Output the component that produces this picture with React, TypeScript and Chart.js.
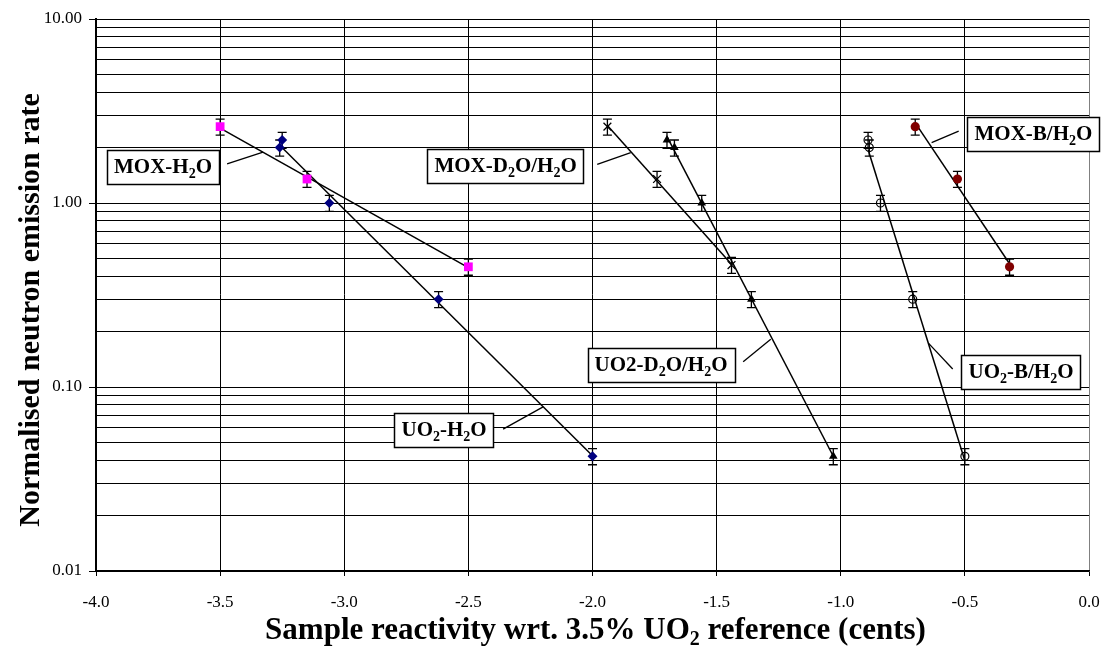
import React, { useEffect, useRef } from "react";
import { Chart, registerables } from "chart.js";

Chart.register(...registerables);

// ---------- data ----------
const xTickValues = [-4.0, -3.5, -3.0, -2.5, -2.0, -1.5, -1.0, -0.5, 0.0];
const yDecades = [0.01, 0.1, 1, 10];

const moxH2oX = [-3.5, -3.15, -2.5];
const moxH2oY = [2.6, 1.35, 0.45];
const moxH2oErr = [0.26, 0.135, 0.045];

const uo2H2oX = [-3.25, -3.26, -3.06, -2.62, -2.0];
const uo2H2oY = [2.2, 2.0, 1.0, 0.3, 0.042];
const uo2H2oErr = [0.22, 0.2, 0.1, 0.03, 0.0042];

const moxD2oX = [-1.94, -1.74, -1.44];
const moxD2oY = [2.6, 1.35, 0.46];
const moxD2oErr = [0.26, 0.135, 0.046];

const uo2D2oX = [-1.7, -1.67, -1.56, -1.36, -1.03];
const uo2D2oY = [2.2, 2.0, 1.0, 0.3, 0.042];
const uo2D2oErr = [0.22, 0.2, 0.1, 0.03, 0.0042];

const uo2BX = [-0.89, -0.885, -0.84, -0.71, -0.5];
const uo2BY = [2.2, 2.0, 1.0, 0.3, 0.042];
const uo2BErr = [0.22, 0.2, 0.1, 0.03, 0.0042];

const moxBX = [-0.7, -0.53, -0.32];
const moxBY = [2.6, 1.35, 0.45];
const moxBErr = [0.26, 0.135, 0.045];

// annotation labels ("_2" = subscript 2)
const labelTexts = ["MOX-H_2O", "MOX-D_2O/H_2O", "MOX-B/H_2O", "UO_2-H_2O", "UO2-D_2O/H_2O", "UO_2-B/H_2O"];
const labelX = [-3.73, -2.35, -0.224, -2.598, -1.724, -0.274];
const labelY = [1.57, 1.58, 2.37, 0.0583, 0.1325, 0.1214];
const leaderX1 = [-3.472, -1.981, -0.525, -2.36, -1.393, -0.549];
const leaderY1 = [1.63, 1.62, 2.46, 0.059, 0.137, 0.1253];
const leaderX2 = [-3.327, -1.846, -0.634, -2.199, -1.282, -0.646];
const leaderY2 = [1.89, 1.88, 2.13, 0.078, 0.1815, 0.1727];

const xTitle = "Sample reactivity wrt. 3.5% UO_2 reference (cents)";
const yTitle = "Normalised neutron emission rate";

// ---------- helpers ----------
const SERIF = '"Liberation Serif", "Times New Roman", serif';

const pts = (xs: number[], ys: number[]) => xs.map((x, i) => ({ x, y: ys[i] }));

// exponential (log-linear) least squares trendline, spanning data x range
function trend(xs: number[], ys: number[]) {
  const n = xs.length;
  const ly = ys.map((v) => Math.log(v));
  const mx = xs.reduce((a, b) => a + b, 0) / n;
  const my = ly.reduce((a, b) => a + b, 0) / n;
  let sxy = 0, sxx = 0;
  for (let i = 0; i < n; i++) {
    sxy += (xs[i] - mx) * (ly[i] - my);
    sxx += (xs[i] - mx) * (xs[i] - mx);
  }
  const b = sxy / sxx;
  const a = my - b * mx;
  const x0 = Math.min(...xs), x1 = Math.max(...xs);
  return [
    { x: x0, y: Math.exp(a + b * x0) },
    { x: x1, y: Math.exp(a + b * x1) },
  ];
}

const yTickValues: number[] = (() => {
  const out: number[] = [];
  for (let d = 0; d < yDecades.length - 1; d++) {
    for (let m = 1; m <= 9; m++) out.push(+(yDecades[d] * m).toPrecision(6));
  }
  out.push(yDecades[yDecades.length - 1]);
  return out;
})();

const isMajor = (v: number) => {
  const l = Math.log10(v);
  return Math.abs(l - Math.round(l)) < 1e-6;
};

function parseRich(text: string) {
  const segs: { t: string; sub: boolean }[] = [];
  const parts = text.split(/_(\d)/);
  parts.forEach((p, i) => {
    if (p) segs.push({ t: p, sub: i % 2 === 1 });
  });
  return segs;
}

function measureRich(ctx: CanvasRenderingContext2D, text: string, size: number, subSize: number) {
  let total = 0;
  parseRich(text).forEach((s) => {
    ctx.font = `bold ${s.sub ? subSize : size}px ${SERIF}`;
    total += ctx.measureText(s.t).width;
  });
  return total;
}

function drawRich(ctx: CanvasRenderingContext2D, text: string, cx: number, cy: number, size: number, subSize: number, subShift: number) {
  const total = measureRich(ctx, text, size, subSize);
  let x = cx - total / 2;
  ctx.textBaseline = "alphabetic";
  ctx.textAlign = "left";
  parseRich(text).forEach((s) => {
    ctx.font = `bold ${s.sub ? subSize : size}px ${SERIF}`;
    ctx.fillText(s.t, x, cy + (s.sub ? subShift : 0));
    x += ctx.measureText(s.t).width;
  });
  return total;
}

// error bars, drawn behind markers
const errorBarPlugin = {
  id: "errorBars",
  beforeDatasetsDraw(chart: any) {
    const ctx = chart.ctx;
    const xs = chart.scales.x, ys = chart.scales.y;
    ctx.save();
    ctx.strokeStyle = "#000";
    ctx.lineWidth = 1.3;
    chart.data.datasets.forEach((ds: any) => {
      if (!ds.errors) return;
      ds.data.forEach((p: any, i: number) => {
        const e = ds.errors[i];
        const px = xs.getPixelForValue(p.x);
        const top = ys.getPixelForValue(p.y + e);
        const bot = ys.getPixelForValue(p.y - e);
        const cap = 4.5;
        ctx.beginPath();
        ctx.moveTo(px, top);
        ctx.lineTo(px, bot);
        ctx.moveTo(px - cap, top);
        ctx.lineTo(px + cap, top);
        ctx.moveTo(px - cap, bot);
        ctx.lineTo(px + cap, bot);
        ctx.stroke();
      });
    });
    ctx.restore();
  },
};

// text boxes, leader lines and axis titles
const annotationPlugin = {
  id: "annotations",
  afterDraw(chart: any) {
    const ctx: CanvasRenderingContext2D = chart.ctx;
    const xs = chart.scales.x, ys = chart.scales.y;
    const area = chart.chartArea;
    ctx.save();
    ctx.strokeStyle = "#000";
    ctx.lineWidth = 1.3;
    labelTexts.forEach((_, i) => {
      ctx.beginPath();
      ctx.moveTo(xs.getPixelForValue(leaderX1[i]), ys.getPixelForValue(leaderY1[i]));
      ctx.lineTo(xs.getPixelForValue(leaderX2[i]), ys.getPixelForValue(leaderY2[i]));
      ctx.stroke();
    });
    const size = 21, subSize = 14, subShift = 5, padX = 7, boxH = 34;
    labelTexts.forEach((t, i) => {
      const cx = xs.getPixelForValue(labelX[i]);
      const cy = ys.getPixelForValue(labelY[i]);
      const w = measureRich(ctx, t, size, subSize) + padX * 2;
      const left = Math.round(cx - w / 2) + 0.5;
      const top = Math.round(cy - boxH / 2) + 0.5;
      ctx.fillStyle = "#fff";
      ctx.fillRect(left, top, Math.round(w), boxH);
      ctx.strokeStyle = "#000";
      ctx.lineWidth = 1.5;
      ctx.strokeRect(left, top, Math.round(w), boxH);
      ctx.fillStyle = "#000";
      drawRich(ctx, t, cx, cy + 6, size, subSize, subShift);
    });
    ctx.fillStyle = "#000";
    drawRich(ctx, xTitle, (area.left + area.right) / 2 + 3, 639, 31, 20, 6);
    ctx.save();
    ctx.translate(39, 310);
    ctx.rotate(-Math.PI / 2);
    drawRich(ctx, yTitle, 0, 0, 30, 20, 6);
    ctx.restore();
    ctx.restore();
  },
};

export default function App() {
  const ref = useRef<HTMLCanvasElement | null>(null);

  useEffect(() => {
    if (!ref.current) return;
    const lineDs = (xs: number[], ys: number[]) => ({
      data: trend(xs, ys),
      showLine: true,
      borderColor: "#000",
      borderWidth: 1.5,
      pointRadius: 0,
      fill: false,
    });
    const chart = new Chart(ref.current, {
      type: "scatter",
      data: {
        datasets: [
          { label: "MOX-H2O", data: pts(moxH2oX, moxH2oY), errors: moxH2oErr, pointStyle: "rect", pointRadius: 6.2, backgroundColor: "#FF00FF", borderColor: "#FF00FF", borderWidth: 0 } as any,
          { label: "UO2-H2O", data: pts(uo2H2oX, uo2H2oY), errors: uo2H2oErr, pointStyle: "rectRot", pointRadius: 5, backgroundColor: "#000080", borderColor: "#000080", borderWidth: 0 } as any,
          { label: "MOX-D2O/H2O", data: pts(moxD2oX, moxD2oY), errors: moxD2oErr, pointStyle: "crossRot", pointRadius: 5.5, backgroundColor: "#000", borderColor: "#000", borderWidth: 1.3 } as any,
          { label: "UO2-D2O/H2O", data: pts(uo2D2oX, uo2D2oY), errors: uo2D2oErr, pointStyle: "triangle", pointRadius: 5, backgroundColor: "#000", borderColor: "#000", borderWidth: 0 } as any,
          { label: "UO2-B/H2O", data: pts(uo2BX, uo2BY), errors: uo2BErr, pointStyle: "circle", pointRadius: 4, backgroundColor: "rgba(0,0,0,0)", borderColor: "#000", borderWidth: 1.2 } as any,
          { label: "MOX-B/H2O", data: pts(moxBX, moxBY), errors: moxBErr, pointStyle: "circle", pointRadius: 4.6, backgroundColor: "#800000", borderColor: "#800000", borderWidth: 0 } as any,
          lineDs(moxH2oX, moxH2oY),
          lineDs(uo2H2oX, uo2H2oY),
          lineDs(moxD2oX, moxD2oY),
          lineDs(uo2D2oX, uo2D2oY),
          lineDs(uo2BX, uo2BY),
          lineDs(moxBX, moxBY),
        ],
      },
      options: {
        responsive: false,
        animation: false,
        devicePixelRatio: 1,
        layout: { padding: { top: 19, right: 15, left: 0, bottom: 0 } },
        plugins: {
          legend: { display: false },
          tooltip: { enabled: false },
        },
        scales: {
          x: {
            type: "linear",
            min: -4,
            max: 0,
            afterBuildTicks: (s: any) => {
              s.ticks = xTickValues.map((v) => ({ value: v }));
            },
            afterFit: (s: any) => {
              s.height = 75;
              s.paddingLeft = 0;
              s.paddingRight = 0;
            },
            ticks: {
              callback: (v: any) => Number(v).toFixed(1),
              font: { family: SERIF, size: 17 },
              color: "#000",
              padding: 16,
              maxRotation: 0,
              autoSkip: false,
            },
            grid: {
              color: (c: any) => (c.tick && c.tick.value === 0 ? "#808080" : "#000"),
              lineWidth: 1,
              tickLength: 5,
              tickColor: "#000",
            },
            border: { color: "#000", width: 1.5 },
          },
          y: {
            type: "logarithmic",
            min: 0.01,
            max: 10,
            afterBuildTicks: (s: any) => {
              s.ticks = yTickValues.map((v) => ({ value: v, major: isMajor(v) }));
            },
            afterFit: (s: any) => {
              s.width = 96;
              s.paddingTop = 0;
              s.paddingBottom = 0;
            },
            ticks: {
              callback: (v: any) => (isMajor(Number(v)) ? Number(v).toFixed(2) : ""),
              font: { family: SERIF, size: 17 },
              color: "#000",
              padding: 7,
              autoSkip: false,
            },
            grid: {
              color: "#000",
              lineWidth: 1,
              tickLength: 7,
              tickColor: (c: any) => (c.tick && isMajor(c.tick.value) ? "#000" : "rgba(0,0,0,0)"),
            },
            border: { color: "#000", width: 2 },
          },
        },
      } as any,
      plugins: [errorBarPlugin, annotationPlugin],
    });
    return () => chart.destroy();
  }, []);

  return (
    <div style={{ position: "fixed", left: 0, top: 0, width: 1104, height: 646, background: "#fff" }}>
      <canvas ref={ref} width={1104} height={646} style={{ display: "block", width: 1104, height: 646 }} />
    </div>
  );
}
